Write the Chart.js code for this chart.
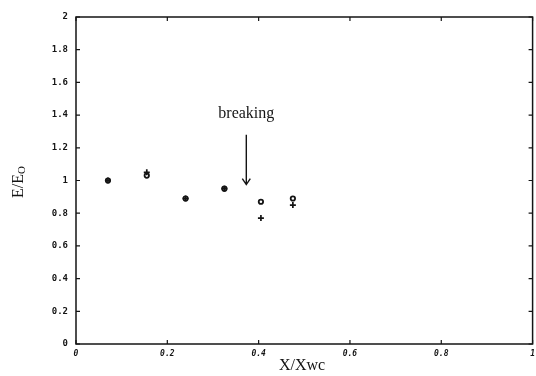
<!DOCTYPE html>
<html>
<head>
<meta charset="utf-8">
<script src="https://cdn.jsdelivr.net/npm/chart.js@4/dist/chart.umd.min.js"></script>
<style>
  html, body { margin: 0; padding: 0; background: #fff; overflow: hidden; }
  #wrap { width: 540px; height: 376px; }
</style>
</head>
<body>
<div id="wrap"><canvas id="chart"></canvas></div>
<script>
// ---- data ----
const xPos        = [0.07, 0.155, 0.24, 0.325, 0.405, 0.475];
const ringValues  = [1.00, 1.03, 0.89, 0.95, 0.87, 0.89];
const plusValues  = [1.00, 1.05, 0.89, 0.95, 0.77, 0.85];
const xTicks      = [0, 0.2, 0.4, 0.6, 0.8, 1];
const yTicks      = [0, 0.2, 0.4, 0.6, 0.8, 1, 1.2, 1.4, 1.6, 1.8, 2];
const arrowX      = 0.373;
const arrowFrom   = 1.28;
const arrowTo     = 0.975;
const noteText    = 'breaking';
const noteY       = 1.41;

const INK = '#141414';

function toPoints(ys) {
    return xPos.map((x, i) => ({ x: x, y: ys[i] }));
}

function fmt(v) {
    return String(Number(v.toFixed(2)));
}

// ---- frame, inward ticks, arrow, axis titles ----
const framePlugin = {
    id: 'frame',
    afterDraw(chart) {
        const { ctx, chartArea: a, scales } = chart;
        const xs = scales.x, ys = scales.y;
        ctx.save();
        ctx.strokeStyle = INK;
        ctx.lineWidth = 1.5;
        ctx.strokeRect(a.left, a.top, a.right - a.left, a.bottom - a.top);

        ctx.lineWidth = 1.2;
        ctx.beginPath();
        xTicks.forEach(v => {
            const px = xs.getPixelForValue(v);
            ctx.moveTo(px, a.bottom); ctx.lineTo(px, a.bottom - 4);
            ctx.moveTo(px, a.top);    ctx.lineTo(px, a.top + 4);
        });
        yTicks.forEach(v => {
            const py = ys.getPixelForValue(v);
            ctx.moveTo(a.left, py);  ctx.lineTo(a.left + 4, py);
            ctx.moveTo(a.right, py); ctx.lineTo(a.right - 4, py);
        });
        ctx.stroke();

        // arrow
        const ax = xs.getPixelForValue(arrowX);
        const y0 = ys.getPixelForValue(arrowFrom);
        const y1 = ys.getPixelForValue(arrowTo);
        ctx.lineWidth = 1.4;
        ctx.beginPath();
        ctx.moveTo(ax, y0); ctx.lineTo(ax, y1);
        ctx.moveTo(ax - 4, y1 - 6); ctx.lineTo(ax, y1); ctx.lineTo(ax + 4, y1 - 6);
        ctx.stroke();

        // note
        ctx.fillStyle = INK;
        ctx.font = '16px "Liberation Serif", serif';
        ctx.textAlign = 'center';
        ctx.textBaseline = 'middle';
        ctx.fillText(noteText, ax, ys.getPixelForValue(noteY));

        // x title
        ctx.fillText('X/Xwc', 302, 366);

        // y title with subscript
        ctx.translate(18, 182);
        ctx.rotate(-Math.PI / 2);
        ctx.font = '16px "Liberation Serif", serif';
        const main = 'E/E';
        const wMain = ctx.measureText(main).width;
        ctx.font = '11px "Liberation Serif", serif';
        const wSub = ctx.measureText('O').width;
        const start = -(wMain + wSub) / 2;
        ctx.textAlign = 'left';
        ctx.textBaseline = 'alphabetic';
        ctx.font = '16px "Liberation Serif", serif';
        ctx.fillText(main, start, 5);
        ctx.font = '11px "Liberation Serif", serif';
        ctx.fillText('O', start + wMain, 7);
        ctx.restore();
    }
};

new Chart(document.getElementById('chart'), {
    type: 'scatter',
    data: {
        datasets: [
            {
                label: 'rings',
                data: toPoints(ringValues),
                pointStyle: 'circle',
                pointRadius: 2.2,
                pointBorderWidth: 1.8,
                pointBorderColor: INK,
                pointBackgroundColor: 'rgba(255,255,255,0)'
            },
            {
                label: 'plus',
                data: toPoints(plusValues),
                pointStyle: 'cross',
                pointRadius: 3,
                pointBorderWidth: 1.7,
                pointBorderColor: INK,
                pointBackgroundColor: INK
            }
        ]
    },
    options: {
        responsive: true,
        maintainAspectRatio: false,
        animation: false,
        events: [],
        layout: { padding: { top: 17, right: 0, left: 0, bottom: 0 } },
        plugins: { legend: { display: false }, tooltip: { enabled: false } },
        scales: {
            x: {
                type: 'linear',
                min: 0, max: 1,
                afterBuildTicks: s => { s.ticks = xTicks.map(v => ({ value: v })); },
                afterFit: s => { s.height = 32; },
                grid: { display: false, drawTicks: false },
                border: { display: false },
                ticks: {
                    color: INK,
                    padding: 5,
                    maxRotation: 0,
                    font: { family: '"DejaVu Sans Mono", monospace', size: 8, style: 'italic', weight: 'bold' },
                    callback: v => fmt(v)
                }
            },
            y: {
                type: 'linear',
                min: 0, max: 2,
                afterBuildTicks: s => { s.ticks = yTicks.map(v => ({ value: v })); },
                afterFit: s => { s.width = 76; },
                grid: { display: false, drawTicks: false },
                border: { display: false },
                ticks: {
                    color: INK,
                    padding: 8,
                    font: { family: '"DejaVu Sans Mono", monospace', size: 9, weight: 'bold' },
                    callback: v => fmt(v)
                }
            }
        }
    },
    plugins: [framePlugin]
});
</script>
</body>
</html>
